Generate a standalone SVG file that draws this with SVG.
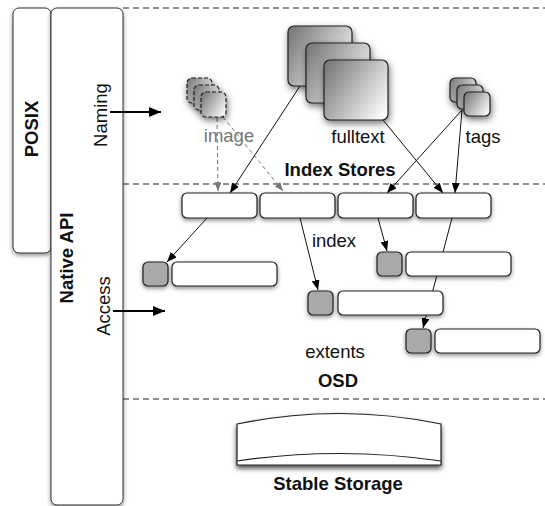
<svg xmlns="http://www.w3.org/2000/svg" width="545" height="506" viewBox="0 0 545 506">
<style>
text{font-family:"Liberation Sans",Arial,Helvetica,sans-serif;font-size:18.5px;fill:#111}
.b{font-weight:bold}
.lay{fill:#fff;stroke:#333;stroke-width:1}
.dash{stroke:#222;stroke-width:1.1;stroke-dasharray:6,4;fill:none}
.box{fill:#fff;stroke:#222;stroke-width:1.2;filter:url(#sh)}
.gray{fill:#a9a9a9;stroke:#222;stroke-width:1.2;filter:url(#sh)}
.stk{fill:url(#gr);stroke:#222;stroke-width:1.2;filter:url(#sh2)}
.stkd{fill:url(#gr);stroke:#222;stroke-width:1.2;stroke-dasharray:4,2;filter:url(#sh2)}
.c{stroke:#111;stroke-width:1;fill:none;marker-end:url(#ah)}
.cb{stroke:#000;stroke-width:2;fill:none;marker-end:url(#ahb)}
.cg{stroke:#777;stroke-width:1;stroke-dasharray:4,3;fill:none;marker-end:url(#ahg)}
</style>
<defs>
<filter id="sh" x="-30%" y="-30%" width="160%" height="180%"><feDropShadow dx="0" dy="2" stdDeviation="2" flood-color="#000" flood-opacity="0.45"/></filter>
<filter id="sh2" x="-40%" y="-40%" width="180%" height="180%"><feDropShadow dx="1" dy="3" stdDeviation="3.5" flood-color="#000" flood-opacity="0.55"/></filter>
<filter id="sh3" x="-20%" y="-40%" width="140%" height="180%"><feDropShadow dx="0" dy="3" stdDeviation="2.5" flood-color="#000" flood-opacity="0.7"/></filter>
<linearGradient id="gr" x1="0" y1="0.2" x2="1" y2="0.8"><stop offset="0" stop-color="#7c7c7c"/><stop offset="1" stop-color="#fbfbfb"/></linearGradient>
<marker id="ah" viewBox="0 0 10 8" refX="10" refY="4" markerWidth="10" markerHeight="8" markerUnits="userSpaceOnUse" orient="auto"><path d="M0,0 L10,4 L0,8 Z" fill="#000"/></marker>
<marker id="ahb" viewBox="0 0 12 10" refX="12" refY="5" markerWidth="13" markerHeight="10" markerUnits="userSpaceOnUse" orient="auto"><path d="M0,0 L12,5 L0,10 Z" fill="#000"/></marker>
<marker id="ahg" viewBox="0 0 10 8" refX="10" refY="4" markerWidth="9" markerHeight="7" markerUnits="userSpaceOnUse" orient="auto"><path d="M0,0 L10,4 L0,8 Z" fill="#777"/></marker>
</defs>
<rect width="545" height="506" fill="#fff"/>
<g id="layers">
<rect id="posix" class="lay" x="13" y="8" width="38" height="245" rx="6" filter="url(#sh)"/>
<rect id="native-api" class="lay" x="51" y="8" width="72" height="497" rx="6" filter="url(#sh)"/>
<text class="b" transform="translate(38,129) rotate(-90)" text-anchor="middle">POSIX</text>
<text class="b" transform="translate(73,258) rotate(-90)" text-anchor="middle">Native API</text>
<text transform="translate(107,115) rotate(-90)" text-anchor="middle">Naming</text>
<text transform="translate(110,306) rotate(-90)" text-anchor="middle">Access</text>
<line class="dash" x1="123" y1="8" x2="545" y2="8"/>
<line class="dash" x1="123" y1="184" x2="545" y2="184"/>
<line class="dash" x1="123" y1="399" x2="545" y2="399"/>
</g>
<g id="connectors">
<line class="cb" x1="110" y1="112" x2="161" y2="112"/>
<line class="cb" x1="113" y1="311" x2="165" y2="311"/>
<line class="cg" x1="217" y1="118" x2="218" y2="191"/>
<line class="cg" x1="223" y1="117" x2="283" y2="191"/>
<line class="c" x1="300" y1="86" x2="230" y2="193"/>
<line class="c" x1="383" y1="120" x2="443" y2="193"/>
<line class="c" x1="462" y1="110" x2="387" y2="193"/>
<line class="c" x1="462" y1="110" x2="455" y2="193"/>
<line class="c" x1="207" y1="218" x2="167" y2="262"/>
<line class="c" x1="300" y1="218" x2="318" y2="290"/>
<line class="c" x1="378" y1="218" x2="387" y2="251"/>
<line class="c" x1="452" y1="218" x2="423" y2="328"/>
</g>
<g id="image-store">
<rect class="stkd" x="187" y="78" width="25" height="25" rx="5"/>
<rect class="stkd" x="194" y="85" width="25" height="25" rx="5"/>
<rect class="stkd" x="201" y="92" width="25" height="25" rx="5"/>
<text x="229" y="142" text-anchor="middle" style="fill:#777">image</text>
</g>
<g id="fulltext-store">
<rect class="stk" x="288" y="26" width="64" height="60" rx="6"/>
<rect class="stk" x="306" y="43" width="64" height="60" rx="6"/>
<rect class="stk" x="324" y="60" width="64" height="60" rx="6"/>
<text x="358" y="143" text-anchor="middle">fulltext</text>
</g>
<g id="tags-store">
<rect class="stk" x="450" y="78" width="26" height="24" rx="5"/>
<rect class="stk" x="457" y="85" width="26" height="24" rx="5"/>
<rect class="stk" x="464" y="92" width="26" height="24" rx="5"/>
<text x="483" y="143" text-anchor="middle">tags</text>
</g>
<text id="index-stores" class="b" x="340" y="176" text-anchor="middle">Index Stores</text>
<g id="index-row">
<rect class="box" x="182" y="193" width="75" height="25" rx="5"/>
<rect class="box" x="260" y="193" width="75" height="25" rx="5"/>
<rect class="box" x="338" y="193" width="75" height="25" rx="5"/>
<rect class="box" x="416" y="193" width="75" height="25" rx="5"/>
<text x="334" y="247" text-anchor="middle">index</text>
</g>
<g id="extent1">
<rect class="gray" x="143" y="262" width="25" height="24" rx="5"/>
<rect class="box" x="172" y="262" width="105" height="24" rx="5"/>
</g>
<g id="extent3">
<rect class="gray" x="377" y="252" width="25" height="24" rx="5"/>
<rect class="box" x="406" y="252" width="105" height="24" rx="5"/>
</g>
<g id="extent2">
<rect class="gray" x="308" y="291" width="25" height="24" rx="5"/>
<rect class="box" x="338" y="291" width="105" height="24" rx="5"/>
</g>
<g id="extent4">
<rect class="gray" x="406" y="329" width="25" height="24" rx="5"/>
<rect class="box" x="435" y="329" width="105" height="24" rx="5"/>
</g>
<text id="extents" x="335" y="358" text-anchor="middle">extents</text>
<text id="osd" class="b" x="338" y="387" text-anchor="middle">OSD</text>
<g id="stable-storage">
<path d="M237,424 Q339,403 441,424 L441,465 L237,465 Z" fill="#fff" stroke="#222" stroke-width="1.2" filter="url(#sh3)"/>
<path d="M237,461 Q339,446 441,461" fill="none" stroke="#222" stroke-width="1.2"/>
<text class="b" x="338" y="490" text-anchor="middle">Stable Storage</text>
</g>
</svg>
